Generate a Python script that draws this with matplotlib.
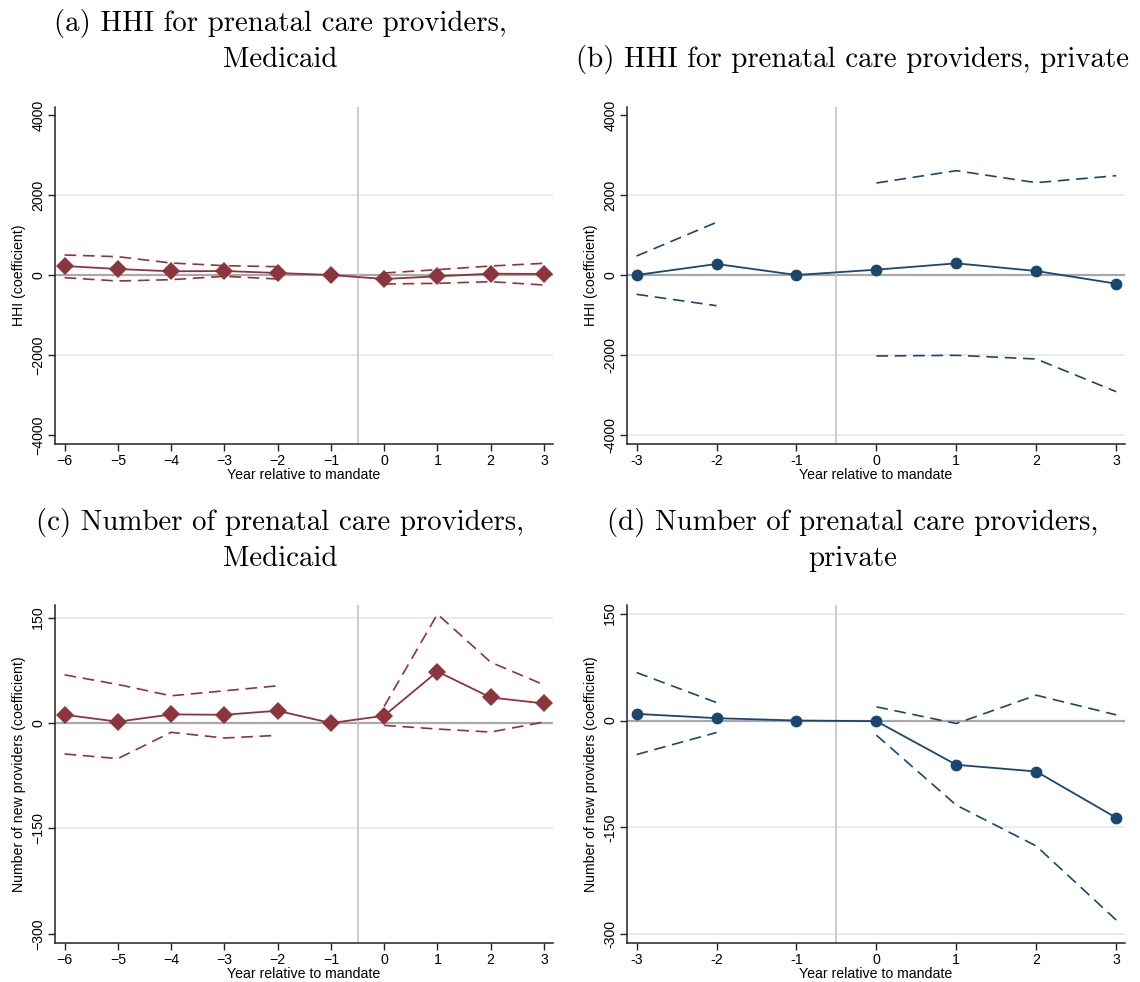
import matplotlib

matplotlib.use("Agg")
import matplotlib.pyplot as plt

MAROON = "#8C353C"
NAVY = "#1A476F"
GRID = "#E8E8E8"
ZERO = "#A8A8A8"
VLINE = "#C8C8C8"

# event-time estimates: HHI, Medicaid
years_a = [-6, -5, -4, -3, -2, -1, 0, 1, 2, 3]
coef_a = [225, 150, 92, 100, 50, 0, -100, -33, 33, 25]
pre_years_a = [-6, -5, -4, -3, -2]
pre_hi_a = [500, 458, 300, 233, 208]
pre_lo_a = [-67, -150, -117, -33, -100]
post_years = [0, 1, 2, 3]
post_hi_a = [50, 133, 225, 292]
post_lo_a = [-225, -208, -167, -250]

# HHI, private
years_b = [-3, -2, -1, 0, 1, 2, 3]
coef_b = [0, 275, 0, 133, 292, 100, -217]
pre_years_b = [-3, -2]
pre_hi_b = [475, 1317]
pre_lo_b = [-483, -767]
post_hi_b = [2300, 2608, 2308, 2483]
post_lo_b = [-2025, -2008, -2100, -2917]

# number of new providers, Medicaid
coef_c = [11.8, 1.9, 12.3, 11.8, 17.5, 0, 10.4, 73.3, 36.4, 27.9]
pre_hi_c = [68.6, 54.9, 38.8, 45.9, 53.0]
pre_lo_c = [-44.0, -50.6, -13.2, -21.3, -17.5]
post_hi_c = [23.7, 155.0, 86.6, 54.4]
post_lo_c = [-3.3, -8.5, -12.8, 1.4]

# number of new providers, private
coef_d = [9.3, 3.3, 0, -0.9, -62.1, -71.5, -136.4]
pre_hi_d = [67.3, 25.2]
pre_lo_d = [-47.7, -16.8]
post_hi_d = [19.2, -4.2, 35.5, 7.9]
post_lo_d = [-20.6, -118.7, -176.0, -279.8]

W, H = 1140, 982
fig = plt.figure(figsize=(W / 100, H / 100), dpi=100)
plt.rcParams["font.family"] = ["Liberation Sans", "DejaVu Sans"]


def make_axes(left, top, right, bottom):
    return fig.add_axes([left / W, 1 - bottom / H, (right - left) / W, (bottom - top) / H])


def draw_panel(ax, years, coef, pre_years, pre_hi, pre_lo, post_hi, post_lo,
               color, marker, msize, yticks, grid_ticks, ylim, xlim, ylabel, unicode_minus):
    for g in grid_ticks:
        ax.axhline(g, color=GRID, lw=1.2, zorder=0)
    ax.axhline(0, color=ZERO, lw=1.6, zorder=1)
    ax.axvline(-0.5, color=VLINE, lw=1.3, zorder=1)
    dash = dict(color=color, lw=1.2, ls=(0, (7, 4)), zorder=2)
    ax.plot(pre_years, pre_hi, **dash)
    ax.plot(pre_years, pre_lo, **dash)
    ax.plot(post_years, post_hi, **dash)
    ax.plot(post_years, post_lo, **dash)
    ax.plot(years, coef, color=color, lw=1.3, marker=marker, ms=msize,
            markeredgewidth=0, zorder=3)
    ax.set_xlim(*xlim)
    ax.set_ylim(*ylim)
    ax.set_xticks(years)
    minus = "\u2212" if unicode_minus else "-"
    ax.set_xticklabels([str(y).replace("-", minus) for y in years])
    ax.set_yticks(yticks)
    ax.set_yticklabels([str(y).replace("-", minus) for y in yticks],
                       rotation=90, va="center")
    for side in ("top", "right"):
        ax.spines[side].set_visible(False)
    for side in ("left", "bottom"):
        ax.spines[side].set_linewidth(1.1)
        ax.spines[side].set_color("#222222")
    ax.tick_params(direction="out", length=5, width=1, labelsize=10.2, pad=2, color="#222222")
    ax.set_xlabel("Year relative to mandate", fontsize=10.2, labelpad=0)
    ax.set_ylabel(ylabel, fontsize=10.2, labelpad=4)


ax_a = make_axes(55, 107, 553, 444)
draw_panel(ax_a, years_a, coef_a, pre_years_a, pre_hi_a, pre_lo_a, post_hi_a, post_lo_a,
           MAROON, "D", 9, [-4000, -2000, 0, 2000, 4000], [-2000, 2000],
           (-4225, 4200), (-6.18, 3.17), "HHI (coefficient)", True)

ax_b = make_axes(627, 107, 1125, 444)
draw_panel(ax_b, years_b, coef_b, pre_years_b, pre_hi_b, pre_lo_b, post_hi_b, post_lo_b,
           NAVY, "o", 8.5, [-4000, -2000, 0, 2000, 4000], [-4000, -2000, 2000],
           (-4225, 4200), (-3.12, 3.11), "HHI (coefficient)", False)

ax_c = make_axes(55, 605, 553, 943)
draw_panel(ax_c, years_a, coef_c, pre_years_a, pre_hi_c, pre_lo_c, post_hi_c, post_lo_c,
           MAROON, "D", 9, [-300, -150, 0, 150], [-150, 150],
           (-313, 168), (-6.18, 3.17), "Number of new providers (coefficient)", True)

ax_d = make_axes(627, 605, 1125, 943)
draw_panel(ax_d, years_b, coef_d, pre_years_b, pre_hi_d, pre_lo_d, post_hi_d, post_lo_d,
           NAVY, "o", 8.5, [-300, -150, 0, 150], [-300, -150, 150],
           (-312, 162), (-3.12, 3.11), "Number of new providers (coefficient)", False)

title_kw = dict(fontsize=20.8, family="cmr10", ha="center", va="baseline")
fig.text(280 / W, 1 - 31 / H, "(a) HHI for prenatal care providers,", **title_kw)
fig.text(280 / W, 1 - 67 / H, "Medicaid", **title_kw)
fig.text(853 / W, 1 - 67 / H, "(b) HHI for prenatal care providers, private", **title_kw)
fig.text(280 / W, 1 - 530 / H, "(c) Number of prenatal care providers,", **title_kw)
fig.text(280 / W, 1 - 566 / H, "Medicaid", **title_kw)
fig.text(853 / W, 1 - 530 / H, "(d) Number of prenatal care providers,", **title_kw)
fig.text(853 / W, 1 - 566 / H, "private", **title_kw)

fig.savefig("out.png", dpi=100, facecolor="white")
